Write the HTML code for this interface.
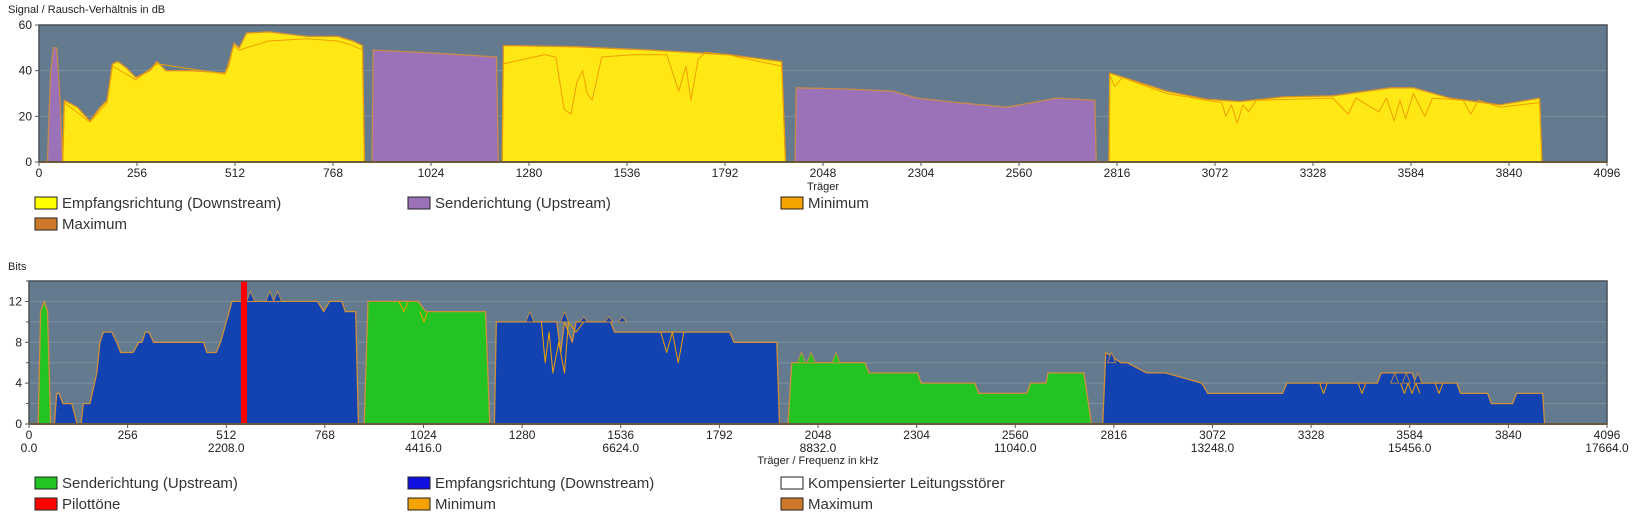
<!DOCTYPE html>
<html><head><meta charset="utf-8">
<style>
body{margin:0;background:#fff;width:1635px;height:522px;overflow:hidden;font-family:"Liberation Sans",sans-serif;}
svg{position:absolute;left:0;top:0}
</style></head>
<body>
<svg id="chart" width="1635" height="522" viewBox="0 0 1635 522" xmlns="http://www.w3.org/2000/svg"></svg>
<script>
// ---- SNR chart data (carrier, dB) ----
const snrDsCarriers=[0,62,66,100,133,160,178,192,206,230,253,290,308,332,400,486,495,509,523,542,600,650,700,780,820,845,850,1210,1213,1400,1600,1800,1940,1950,2795,2797,2946,3050,3137,3250,3380,3530,3590,3686,3816,3920,3926,4096];
const snrDsValues=[0,0,27,24,18,24,27,43,44,41,37,40,44,40,40,39,42,52,50,56.5,57,56,55,55,53,51,0,0,51,50.5,49,47,44,0,0,39,31,27.5,26.5,28.5,29,32.5,32.5,28,25,28,0,0];
const snrUsCarriers=[0,22,30,38,46,54,62,870,873,1000,1100,1195,1200,1975,1978,2100,2231,2294,2400,2529,2659,2758,2762,4096];
const snrUsValues=[0,0,38,50,50,30,0,0,49,48,47,46,0,0,32.5,32,31,28,26,24,28,27,0,0];
const snrMinCarriers=[0,62,66,133,178,192,253,308,486,509,523,542,600,700,780,820,845,850,1210,1213,1320,1350,1372,1390,1405,1420,1432,1445,1470,1550,1640,1671,1690,1703,1722,1740,1800,1880,1940,1950,2795,2797,2810,2830,2946,3050,3090,3100,3115,3130,3145,3160,3180,3380,3420,3440,3500,3520,3540,3555,3570,3590,3620,3640,3720,3740,3760,3816,3920,3926,4096];
const snrMinValues=[0,0,26,17.5,26,42,36,43,38.5,51,49,50,53,54,53,51,49,0,0,43,47,46,23,21,35,40,30,27,46,47,47,31,42,27,45,48,47,44,42,0,0,38,33,37,30,27,26,20,25,17,25,22,27,28,21,28,22,28,18,27,19,30,20,28,27,21,27,24,26,0,0];
const snrTicks=[0,20,40,60];
const carrierTicks=[0,256,512,768,1024,1280,1536,1792,2048,2304,2560,2816,3072,3328,3584,3840,4096];
// ---- Bits chart data (carrier, bits) ----
const bitsDsCarriers=[0,66,72,78,88,111,125,135,141,158,176,184,193,215,228,238,270,285,293,302,311,324,453,462,486,497,527,749,765,780,812,821,848,855,1208,1213,1370,1380,1390,1410,1420,1510,1520,1819,1830,1941,1948,2787,2795,2834,2850,2901,2950,3044,3060,3254,3265,3500,3510,3590,3600,3706,3716,3786,3796,3851,3861,3929,3934,4096];
const bitsDsValues=[0,0,3,3,2,2,0,0,2,2,5,8,9,9,8,7,7,8,8,9,9,8,8,7,7,8,12,12,11,12,12,11,11,0,0,10,10,7,10,8,10,10,9,9,8,8,0,0,7,6,6,5,5,4,3,3,4,4,5,5,4,4,3,3,2,2,3,3,0,0];
const bitsUsCarriers=[0,24,30,40,48,56,870,880,1010,1030,1185,1196,1970,1980,2170,2180,2306,2316,2455,2465,2590,2600,2640,2645,2738,2758,4096];
const bitsUsValues=[0,0,11,12,11,0,0,12,12,11,11,0,0,6,6,5,5,4,4,3,3,4,4,5,5,0,0];
// null separates independent minimum-line segments
const bitsMinCarriers=[960,973,985,null,1015,1025,1035,null,1330,1340,1350,1360,1375,1390,1400,1420,1440,null,1640,1655,1670,1685,1700,null,3350,3360,3370,null,3450,3460,3470,null,3560,3570,3580,3590,3600,3610,null,3650,3660,3670];
const bitsMinValues=[12,11,12,null,11,10,11,null,10,6,9,5,8,5,10,9,10,null,9,7,9,6,9,null,4,3,4,null,4,3,4,null,4,3,4,3,4,3,null,4,3,4];
const bitsPeakCarriers=[575,625,645,1300,1390,1440,1505,1540,2005,2030,2095,2810,3545,3575,3605];
const bitsPeakValues=[13,13,13,11,11,10.5,10.5,10.5,7,7,7,7,5,5,5];
const pilotCarriers=[558];
const bitsTicks=[0,4,8,12];
const freqTicks=["0.0","2208.0","4416.0","6624.0","8832.0","11040.0","13248.0","15456.0","17664.0"];

const NS='http://www.w3.org/2000/svg';
const svg=document.getElementById('chart');
function mk(tag,attrs,parent){const e=document.createElementNS(NS,tag);for(const k in attrs)e.setAttribute(k,attrs[k]);(parent||svg).appendChild(e);return e;}
function txt(x,y,s,size,anchor,parent){const t=mk('text',{x:x,y:y,'font-size':size,'text-anchor':anchor||'start',fill:'#222','font-family':'Liberation Sans, sans-serif'},parent);t.textContent=s;return t;}

function makeChart(o){
  const g=mk('g',{});
  
  
  const X=c=>o.x0+(c/4096)*(o.x1-o.x0);
  const Y=v=>o.y1-(v/o.ymax)*(o.y1-o.y0);
  const bg=mk('rect',{x:o.x0,y:o.y0,width:o.x1-o.x0,height:o.y1-o.y0,fill:'#647a8f'},g);
  
  
  for(let v=o.gridStep;v<o.ymax;v+=o.gridStep){mk('line',{x1:o.x0,x2:o.x1,y1:Y(v),y2:Y(v),stroke:'#7d8fa1','stroke-width':1},g);}
  return {g,X,Y};
}
function area(ch,cs,vs,fill,stroke,name){
  let d='';cs.forEach((c,i)=>{d+=(i?'L':'M')+ch.X(c).toFixed(1)+','+ch.Y(vs[i]).toFixed(1);});
  const p=mk('path',{d:d+'Z',fill:fill,stroke:stroke,'stroke-width':1.3,'stroke-linejoin':'round'},ch.g);
  
  
}
function line(ch,cs,vs,stroke,name){
  let d='',pen=false;cs.forEach((c,i)=>{if(c===null||vs[i]===null){pen=false;return;}
    d+=(pen?'L':'M')+ch.X(c).toFixed(1)+','+ch.Y(vs[i]).toFixed(1);pen=true;});
  const p=mk('path',{d:d,fill:'none',stroke:stroke,'stroke-width':1,'stroke-linejoin':'round'},ch.g);
  
  
}
function axes(ch,o,ticks,freq){
  mk('rect',{x:o.x0,y:o.y0,width:o.x1-o.x0,height:o.y1-o.y0,fill:'none',stroke:'#4a4f55','stroke-width':1.5},ch.g);
  mk('line',{x1:o.x0,x2:o.x1,y1:o.y1,y2:o.y1,stroke:'#6b5a3a','stroke-width':2},ch.g);
  ticks.forEach(v=>{mk('line',{x1:o.x0-4,x2:o.x0,y1:ch.Y(v),y2:ch.Y(v),stroke:'#555'},ch.g);
    const t=txt(o.x0-7,ch.Y(v)+4,String(v),12,'end',ch.g);
    
    });
  if(o.minor){for(let v=2;v<=o.ymax;v+=4){mk('line',{x1:o.x0-3,x2:o.x0,y1:ch.Y(v),y2:ch.Y(v),stroke:'#555'},ch.g);}}
  carrierTicks.forEach((c,i)=>{const x=ch.X(c);mk('line',{x1:x,x2:x,y1:o.y1,y2:o.y1+4,stroke:'#555'},ch.g);
    const t=txt(x,o.y1+15,String(c),12,'middle',ch.g);
    
    
    if(freq&&i%2===0){const f=txt(x,o.y1+28,freq[i/2],12,'middle',ch.g);
      
      }});
}
// SNR chart
const o1={name:'snr-chart',x0:39,x1:1607,y0:25,y1:162,ymax:60,gridStep:20};
const c1=makeChart(o1);
area(c1,snrUsCarriers,snrUsValues,'#9b72b8','#c98a4a','snr-upstream-area');
area(c1,snrDsCarriers,snrDsValues,'#ffe814','#d9902a','snr-downstream-area');
line(c1,snrMinCarriers,snrMinValues,'#f0a000','snr-minimum-line');
axes(c1,o1,snrTicks,null);
let t=txt(8,13,'Signal / Rausch-Verhältnis in dB',11);
t=txt(823,190,'Träger',11,'middle');
// Bits chart
const o2={name:'bits-chart',x0:29,x1:1607,y0:281,y1:424,ymax:14,gridStep:2,minor:true};
const c2=makeChart(o2);
area(c2,bitsUsCarriers,bitsUsValues,'#22c322','#d0903a','bits-upstream-area');
area(c2,bitsDsCarriers,bitsDsValues,'#1243b0','#d0903a','bits-downstream-area');
line(c2,bitsMinCarriers,bitsMinValues,'#f0a000','bits-minimum-line');
bitsPeakCarriers.forEach((c,i)=>{const x=c2.X(c),base=Math.floor(bitsPeakValues[i]-0.5);
  const p=mk('path',{d:'M'+(x-4)+','+c2.Y(base)+'L'+x+','+c2.Y(bitsPeakValues[i])+'L'+(x+4)+','+c2.Y(base)+'Z',fill:c<1970||c>2780?'#1243b0':'#22c322',stroke:'#d0903a','stroke-width':0.8},c2.g);
  
  });
pilotCarriers.forEach(c=>{const r=mk('rect',{x:c2.X(c)-3,y:o2.y0,width:6,height:o2.y1-o2.y0,fill:'#ff0000'},c2.g);
  
  });
axes(c2,o2,bitsTicks,freqTicks);
t=txt(8,270,'Bits',11);
t=txt(818,464,'Träger / Frequenz in kHz',11,'middle');
// Legends
function legend(x,y,color,label,name){const g=mk('g',{});
  
  
  mk('rect',{x:x,y:y-6,width:22,height:12,fill:color,stroke:'#222','stroke-width':1},g);
  const tt=txt(x+27,y+5,label,15,'start',g);tt.setAttribute('fill','#333');}
legend(35,203,'#ffff00','Empfangsrichtung (Downstream)','legend-snr-downstream');
legend(408,203,'#9b72b8','Senderichtung (Upstream)','legend-snr-upstream');
legend(781,203,'#f5a300','Minimum','legend-snr-minimum');
legend(35,224,'#cc7a2a','Maximum','legend-snr-maximum');
legend(35,483,'#22c322','Senderichtung (Upstream)','legend-bits-upstream');
legend(408,483,'#1010e0','Empfangsrichtung (Downstream)','legend-bits-downstream');
legend(781,483,'#ffffff','Kompensierter Leitungsstörer','legend-bits-compensated');
legend(35,504,'#ff0000','Pilottöne','legend-bits-pilot');
legend(408,504,'#f5a300','Minimum','legend-bits-minimum');
legend(781,504,'#cc7a2a','Maximum','legend-bits-maximum');
</script>
</body></html>
